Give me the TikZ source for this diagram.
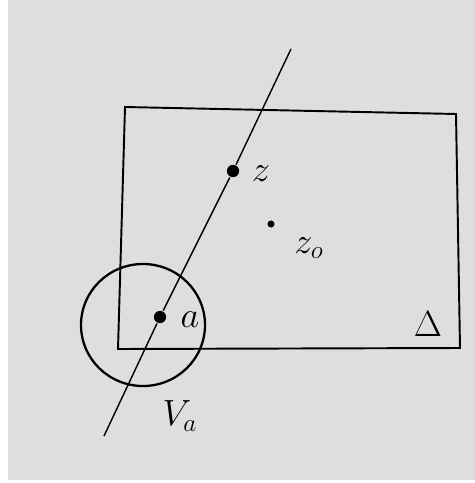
\documentclass[tikz,border=0pt]{standalone}
\definecolor{paper}{RGB}{222,222,222}
\tikzset{
  pt/.style={circle, fill=black, inner sep=0pt, minimum size=#1},
  lbl/.style={font=\huge, inner sep=0pt}
}
\begin{document}
\begin{tikzpicture}[x=0.02cm, y=-0.02cm, line width=1.1pt]
    \fill[white] (0,0) rectangle (475,483);
    \fill[paper] (8,0) rectangle (475,480);

    % the region
    \coordinate (tl) at (125,107);
    \coordinate (tr) at (456,114);
    \coordinate (br) at (460,348);
    \coordinate (bl) at (118,349);
    \draw (tl) -- (tr) -- (br) -- (bl) -- cycle;
    \node[lbl] (delta) at (428,324) {$\Delta$};

    % the points
    \node[pt=7pt] (a) at (160,317) {};
    \node[pt=7pt] (z) at (233,171) {};
    \node[pt=4pt] (z0) at (271,224) {};
    \node[lbl] (la) at (190,320) {$a$};
    \node[lbl] (lz) at (261,174) {$z$};
    \node[lbl] (lz0) at (309,248) {$z_{o}$};

    % the line through a and z
    \coordinate (lo) at (104,436);
    \coordinate (hi) at (291,49);
    \draw[line width=0.8pt] (lo) -- (a) -- (z) -- (hi);

    % the neighbourhood of a
    \draw[line width=1.3pt] (143,325) ellipse [x radius=62, y radius=61];
    \node[lbl] (va) at (180,416) {$V_a$};
\end{tikzpicture}
\end{document}
